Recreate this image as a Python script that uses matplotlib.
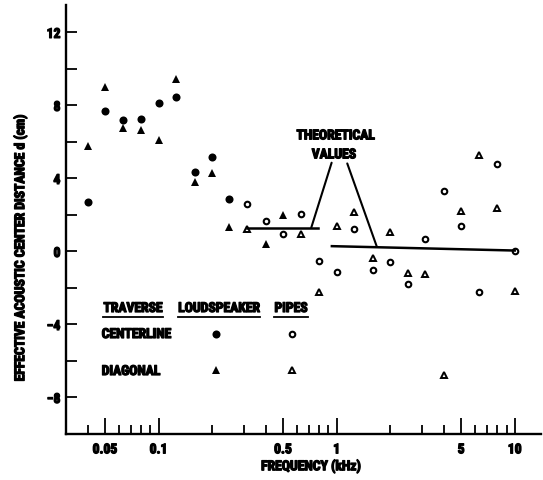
import matplotlib
matplotlib.use('Agg')
import matplotlib.pyplot as plt
import matplotlib.patheffects as pe
from matplotlib import font_manager
from matplotlib.ticker import FixedLocator, FixedFormatter, NullFormatter
from matplotlib.lines import Line2D

# loudspeaker traverse (filled marks)
ls_center_freq = [0.04, 0.05, 0.063, 0.08, 0.1, 0.125, 0.16, 0.2, 0.25]
ls_center_d = [2.7, 7.7, 7.2, 7.25, 8.15, 8.45, 4.35, 5.15, 2.9]
ls_diag_freq = [0.04, 0.05, 0.063, 0.08, 0.1, 0.125, 0.16, 0.2, 0.25, 0.4, 0.5]
ls_diag_d = [5.8, 9.0, 6.75, 6.65, 6.1, 9.45, 3.8, 4.3, 1.35, 0.4, 2.0]

# pipes traverse (open marks)
pipe_center_freq = [0.315, 0.4, 0.5, 0.63, 0.8, 1.0, 1.25, 1.6, 2.0, 2.5, 3.15, 4.0, 5.0, 6.3, 8.0, 10.0]
pipe_center_d = [2.6, 1.67, 0.98, 2.07, -0.5, -1.13, 1.22, -0.99, -0.6, -1.81, 0.66, 3.3, 1.39, -2.21, 4.77, 0.02]
pipe_diag_freq = [0.315, 0.63, 0.8, 1.0, 1.25, 1.6, 2.0, 2.5, 3.15, 4.0, 5.0, 6.3, 8.0, 10.0]
pipe_diag_d = [1.25, 0.93, -2.23, 1.39, 2.15, -0.37, 1.08, -1.17, -1.21, -6.78, 2.21, 5.28, 2.36, -2.17]

# theoretical values
theory_low_freq = [0.312, 0.79]
theory_low_d = [1.3, 1.3]
theory_high_freq = [0.94, 10.0]
theory_high_d = [0.29, 0.05]

x_major = [0.05, 0.1, 0.5, 1, 5, 10]
x_major_labels = ['0.05', '0.1', '0.5', '1', '5', '10']
x_minor = [0.04, 0.06, 0.07, 0.08, 0.09, 0.2, 0.3, 0.4, 0.6, 0.7, 0.8, 0.9,
           2, 3, 4, 6, 7, 8, 9]
y_major = [-8, -4, 0, 4, 8, 12]
y_major_labels = ['\u22128', '\u22124', '0', '4', '8', '12']
y_minor = [-6, -2, 2, 6, 10]

# pick a narrow bold face if one is installed
installed = {f.name for f in font_manager.fontManager.ttflist}
FONT = [f for f in ['Liberation Sans Narrow', 'Roboto Condensed', 'Open Sans Condensed',
                    'Liberation Sans'] if f in installed] + ['DejaVu Sans']
narrow = FONT[0] in ('Liberation Sans Narrow', 'Roboto Condensed', 'Open Sans Condensed')
FS = 9.8 if narrow else 8.6
# thicken the strokes a little, the print face is very heavy
HEAVY = [pe.withStroke(linewidth=0.9, foreground='black')]
TXT = dict(fontsize=FS, fontweight='bold', family=FONT, path_effects=HEAVY)

W, H = 543, 480


def fx(px):
    return px / W


def fy(py):
    return 1 - py / H


fig = plt.figure(figsize=(W / 100, H / 100), dpi=100)
ax = fig.add_axes([fx(66), fy(434), (541 - 66) / W, (434 - 5) / H])

ms_fill = 5.8
ax.plot(ls_center_freq, ls_center_d, 'o', color='black', ms=ms_fill, mew=0)
ax.plot(ls_diag_freq, ls_diag_d, '^', color='black', ms=ms_fill, mew=0)
ax.plot(pipe_center_freq, pipe_center_d, 'o', mfc='white', mec='black', ms=4.0, mew=1.5)
ax.plot(pipe_diag_freq, pipe_diag_d, '^', mfc='white', mec='black', ms=4.4, mew=1.4)

ax.plot(theory_low_freq, theory_low_d, '-', color='black', lw=1.8)
ax.plot(theory_high_freq, theory_high_d, '-', color='black', lw=1.8)

ax.text(0.987, 6.36, 'THEORETICAL', ha='center', va='center', **TXT)
ax.text(0.966, 5.32, 'VALUES', ha='center', va='center', **TXT)
ax.annotate('', xy=(0.72, 1.3), xytext=(0.937, 4.86),
            arrowprops=dict(arrowstyle='-', lw=1.5, color='black', shrinkA=0, shrinkB=0))
ax.annotate('', xy=(1.68, 0.27), xytext=(1.147, 4.82),
            arrowprops=dict(arrowstyle='-', lw=1.5, color='black', shrinkA=0, shrinkB=0))

ax.set_xscale('log')
ax.set_xlim(0.0302, 14.05)
ax.set_ylim(-10, 13.5)
ax.xaxis.set_major_locator(FixedLocator(x_major))
ax.xaxis.set_major_formatter(FixedFormatter(x_major_labels))
ax.xaxis.set_minor_locator(FixedLocator(x_minor))
ax.xaxis.set_minor_formatter(NullFormatter())
ax.yaxis.set_major_locator(FixedLocator(y_major))
ax.yaxis.set_major_formatter(FixedFormatter(y_major_labels))
ax.yaxis.set_minor_locator(FixedLocator(y_minor))

for s in ['top', 'right']:
    ax.spines[s].set_visible(False)
for s in ['left', 'bottom']:
    ax.spines[s].set_linewidth(1.7)

ax.tick_params(axis='x', which='major', direction='in', length=11.5, width=1.3, pad=6)
ax.tick_params(axis='x', which='minor', direction='in', length=6.8, width=1.3)
ax.tick_params(axis='y', which='both', direction='in', length=8, width=1.3, pad=4)
for lab in ax.get_xticklabels() + ax.get_yticklabels():
    lab.set_family(FONT)
    lab.set_fontweight('bold')
    lab.set_fontsize(FS)
    lab.set_path_effects(HEAVY)

fig.text(fx(311), fy(466), 'FREQUENCY (kHz)', ha='center', va='center', **TXT)
fig.text(fx(20), fy(248), 'EFFECTIVE ACOUSTIC CENTER DISTANCE d (cm)', ha='center',
         va='center', rotation=90, **TXT)

# legend block
heads = [('TRAVERSE', 133), ('LOUDSPEAKER', 219), ('PIPES', 291)]
head_texts = []
for txt, px in heads:
    head_texts.append(fig.text(fx(px), fy(308), txt, ha='center', va='center', **TXT))
fig.text(fx(101.7), fy(334), 'CENTERLINE', ha='left', va='center', **TXT)
fig.text(fx(101.7), fy(371), 'DIAGONAL', ha='left', va='center', **TXT)

fig.add_artist(Line2D([fx(216)], [fy(334)], marker='o', color='black', ms=ms_fill, mew=0))
fig.add_artist(Line2D([fx(291.5)], [fy(334)], marker='o', mfc='white', mec='black', ms=4.0, mew=1.5))
fig.add_artist(Line2D([fx(216)], [fy(370)], marker='^', color='black', ms=ms_fill, mew=0))
fig.add_artist(Line2D([fx(291.5)], [fy(370)], marker='^', mfc='white', mec='black', ms=4.4, mew=1.4))

fig.canvas.draw()
renderer = fig.canvas.get_renderer()
for t in head_texts:
    bb = t.get_window_extent(renderer)
    fig.add_artist(Line2D([bb.x0 / W, bb.x1 / W], [fy(317)] * 2, color='black', lw=1.3))

fig.savefig('out.png', dpi=100)
